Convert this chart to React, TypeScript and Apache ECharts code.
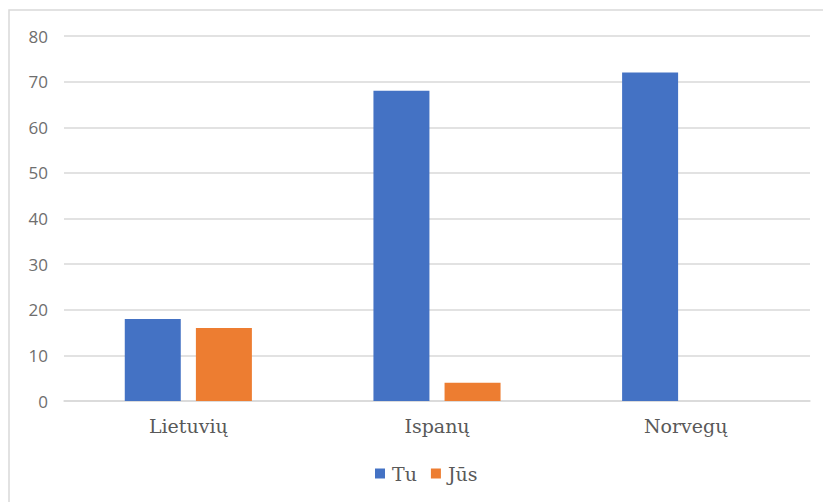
import React, { useEffect, useRef } from "react";
import * as echarts from "echarts";

const categories = ["Lietuvių", "Ispanų", "Norvegų"];
const tuValues = [18, 68, 72];
const jusValues = [16, 4, 0];
const seriesNames = ["Tu", "Jūs"];

const SERIF = "DejaVu Serif";

export default function App() {
  const ref = useRef<HTMLDivElement>(null);
  useEffect(() => {
    document.body.style.margin = "0";
    const chart = echarts.init(ref.current!, null, { renderer: "svg" });
    chart.setOption({
      animation: false,
      backgroundColor: "#ffffff",
      graphic: [
        {
          type: "rect",
          shape: { x: 9, y: 10, width: 900, height: 600 },
          style: { fill: "none", stroke: "#d9d9d9", lineWidth: 1.5 },
          silent: true,
          z: -10,
        },
      ],
      grid: { left: 64, right: 13, top: 36, bottom: 101 },
      legend: {
        top: 464,
        left: 375,
        padding: 0,
        itemWidth: 10,
        itemHeight: 10,
        itemGap: 14,
        icon: "rect",
        textStyle: {
          fontFamily: SERIF,
          fontSize: 19,
          color: "#595959",
          padding: [0, 0, 0, 2],
        },
        data: seriesNames,
      },
      xAxis: {
        type: "category",
        data: categories,
        axisLine: { lineStyle: { color: "#d9d9d9", width: 1.5 } },
        axisTick: { show: false },
        axisLabel: {
          margin: 15,
          fontFamily: SERIF,
          fontSize: 19,
          color: "#595959",
        },
      },
      yAxis: {
        type: "value",
        min: 0,
        max: 80,
        interval: 10,
        axisLine: { show: false },
        axisTick: { show: false },
        splitLine: { lineStyle: { color: "#d9d9d9", width: 1.5 } },
        axisLabel: {
          margin: 16,
          fontFamily: "Open Sans",
          fontSize: 17,
          color: "#6e6e6e",
        },
      },
      series: [
        {
          name: seriesNames[0],
          type: "bar",
          data: tuValues,
          barWidth: 56,
          barGap: "27%",
          itemStyle: { color: "#4472C4" },
        },
        {
          name: seriesNames[1],
          type: "bar",
          data: jusValues,
          barWidth: 56,
          itemStyle: { color: "#ED7D31" },
        },
      ],
    });
    return () => chart.dispose();
  }, []);
  return <div ref={ref} style={{ width: 823, height: 502 }} />;
}
